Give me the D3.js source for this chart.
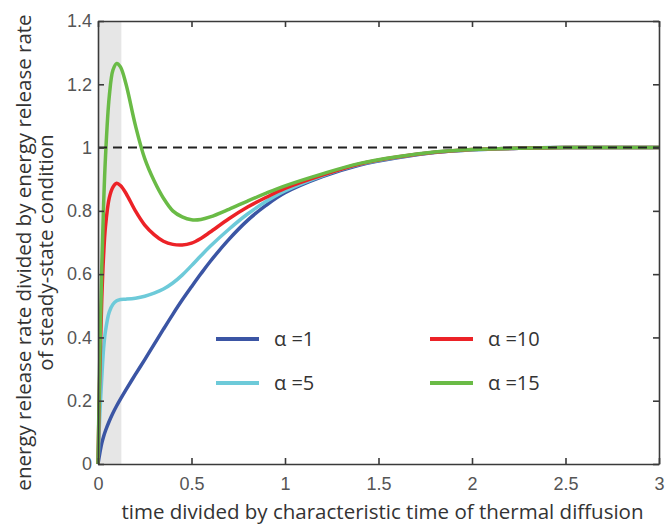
<!DOCTYPE html>
<html>
<head>
<meta charset="utf-8">
<script src="https://cdn.jsdelivr.net/npm/d3@7"></script>
<style>
  body { margin: 0; background: #fff; }
  svg { font-family: "Open Sans", sans-serif; }
  .tick-label { fill: #555; font-size: 18px; }
  .title { fill: #333; font-size: 20.5px; }
  .legend-label { fill: #333; font-size: 20px; }
</style>
</head>
<body>
<div class="chart"></div>
<script>

// time / characteristic time of thermal diffusion
const times = [0, 0.01, 0.02, 0.03, 0.04, 0.06, 0.08, 0.10, 0.12, 0.15, 0.2, 0.25, 0.3, 0.35, 0.4, 0.45, 0.5, 0.55,
    0.6, 0.7, 0.8, 0.9, 1.0, 1.2, 1.4, 1.6, 1.8, 2.0, 2.25, 2.5, 3.0]

const alpha1 = [0, 0.035, 0.065, 0.087, 0.105, 0.135, 0.161, 0.184, 0.205, 0.235, 0.283, 0.33, 0.378, 0.426, 0.473, 0.518, 0.56, 0.601,
    0.64, 0.71, 0.77, 0.818, 0.857, 0.908, 0.945, 0.968, 0.984, 0.993, 0.998, 1.0, 1.0]
const alpha5 = [0, 0.16, 0.27, 0.365, 0.42, 0.48, 0.505, 0.516, 0.52, 0.521, 0.524, 0.53, 0.54, 0.553, 0.572, 0.597, 0.627, 0.658,
    0.688, 0.742, 0.79, 0.83, 0.863, 0.911, 0.947, 0.969, 0.985, 0.993, 0.998, 1.0, 1.0]
const alpha10 = [0, 0.3, 0.52, 0.66, 0.75, 0.84, 0.875, 0.887, 0.88, 0.855, 0.80, 0.755, 0.725, 0.704, 0.694, 0.692, 0.698, 0.713,
    0.733, 0.775, 0.812, 0.843, 0.871, 0.913, 0.948, 0.97, 0.985, 0.994, 0.998, 1.0, 1.0]
const alpha15 = [0, 0.35, 0.62, 0.82, 0.97, 1.16, 1.245, 1.266, 1.255, 1.2, 1.07, 0.965, 0.895, 0.84, 0.8, 0.781, 0.772, 0.773,
    0.781, 0.805, 0.831, 0.856, 0.879, 0.917, 0.95, 0.971, 0.986, 0.994, 0.998, 1.0, 1.0]

const seriesNames = ["α =1", "α =5", "α =10", "α =15"]
const seriesColors = ["#3b55a4", "#6dcad9", "#ec2227", "#6abb46"]

const xTicks = [0, 0.5, 1, 1.5, 2, 2.5, 3]
const yTicks = [0, 0.2, 0.4, 0.6, 0.8, 1, 1.2, 1.4]
const shadedRange = [0, 0.125]
const steadyState = 1


const width = 665
const height = 525
const margin = { top: 21, right: 6, bottom: 61, left: 98 }

const svg = d3.select(".chart")
    .append("svg")
    .attr("width", width)
    .attr("height", height)

const x = d3.scaleLinear()
    .domain([0, 3])
    .range([margin.left, width - margin.right])

const y = d3.scaleLinear()
    .domain([0, 1.4])
    .range([height - margin.bottom, margin.top])

// grey band
svg.append("rect")
    .attr("x", x(shadedRange[0]))
    .attr("y", y(1.4))
    .attr("width", x(shadedRange[1]) - x(shadedRange[0]))
    .attr("height", y(0) - y(1.4))
    .attr("fill", "#e6e6e6")

const series = [alpha1, alpha5, alpha10, alpha15].map((vals, i) => ({
    name: seriesNames[i],
    color: seriesColors[i],
    values: vals.map((v, j) => ({ t: times[j], v: v }))
}))

const line = d3.line()
    .x(d => x(d.t))
    .y(d => y(d.v))
    .curve(d3.curveCatmullRom.alpha(0.5))

svg.append("g")
    .selectAll("path")
    .data(series)
    .join("path")
    .attr("d", d => line(d.values))
    .attr("fill", "none")
    .attr("stroke", d => d.color)
    .attr("stroke-width", 3.5)
    .attr("stroke-linejoin", "round")

// steady state
svg.append("line")
    .attr("x1", x(0))
    .attr("x2", x(3))
    .attr("y1", y(steadyState))
    .attr("y2", y(steadyState))
    .attr("stroke", "#222")
    .attr("stroke-width", 2)
    .attr("stroke-dasharray", "9,6")

// axes box with inward ticks
const axisColor = "#3a3a3a"
function styleAxis(g) {
    g.select(".domain").attr("stroke", axisColor).attr("stroke-width", 1.6)
    g.selectAll(".tick line").attr("stroke", axisColor).attr("stroke-width", 1.6)
}

svg.append("g")
    .attr("transform", `translate(0,${y(0)})`)
    .call(d3.axisBottom(x).tickValues(xTicks).tickSizeInner(-6).tickSizeOuter(0).tickPadding(13).tickFormat(d3.format("")))
    .call(styleAxis)
    .call(g => g.selectAll("text").attr("class", "tick-label").attr("font-family", null).attr("font-size", null))

svg.append("g")
    .attr("transform", `translate(0,${y(1.4)})`)
    .call(d3.axisTop(x).tickValues(xTicks).tickSizeInner(-6).tickSizeOuter(0).tickFormat(""))
    .call(styleAxis)

svg.append("g")
    .attr("transform", `translate(${x(0)},0)`)
    .call(d3.axisLeft(y).tickValues(yTicks).tickSizeInner(-6).tickSizeOuter(0).tickPadding(6).tickFormat(d3.format("")))
    .call(styleAxis)
    .call(g => g.selectAll("text").attr("class", "tick-label").attr("font-family", null).attr("font-size", null))

svg.append("g")
    .attr("transform", `translate(${x(3)},0)`)
    .call(d3.axisRight(y).tickValues(yTicks).tickSizeInner(-6).tickSizeOuter(0).tickFormat(""))
    .call(styleAxis)

// axis titles
svg.append("text")
    .attr("class", "title")
    .attr("x", (x(0) + x(3)) / 2 + 4)
    .attr("y", 519)
    .attr("text-anchor", "middle")
    .text("time divided by characteristic time of thermal diffusion")

const yTitle = svg.append("text")
    .attr("class", "title")
    .attr("transform", `translate(31,${(y(0) + y(1.4)) / 2 + 10}) rotate(-90)`)
    .attr("text-anchor", "middle")

yTitle.append("tspan").attr("x", 0).attr("dy", 0)
    .text("energy release rate divided by energy release rate")
yTitle.append("tspan").attr("x", 0).attr("dy", 22)
    .text("of steady-state condition")

// legend
const legendPos = [[216, 339], [216, 383], [430, 339], [430, 383]]

const legend = svg.append("g")
    .selectAll("g")
    .data(series)
    .join("g")
    .attr("transform", (d, i) => `translate(${legendPos[i][0]},${legendPos[i][1]})`)

legend.append("line")
    .attr("x1", 0)
    .attr("x2", 43)
    .attr("stroke", d => d.color)
    .attr("stroke-width", 4)

legend.append("text")
    .attr("class", "legend-label")
    .attr("x", 58)
    .attr("dy", "0.36em")
    .text(d => d.name)

</script>
</body>
</html>
